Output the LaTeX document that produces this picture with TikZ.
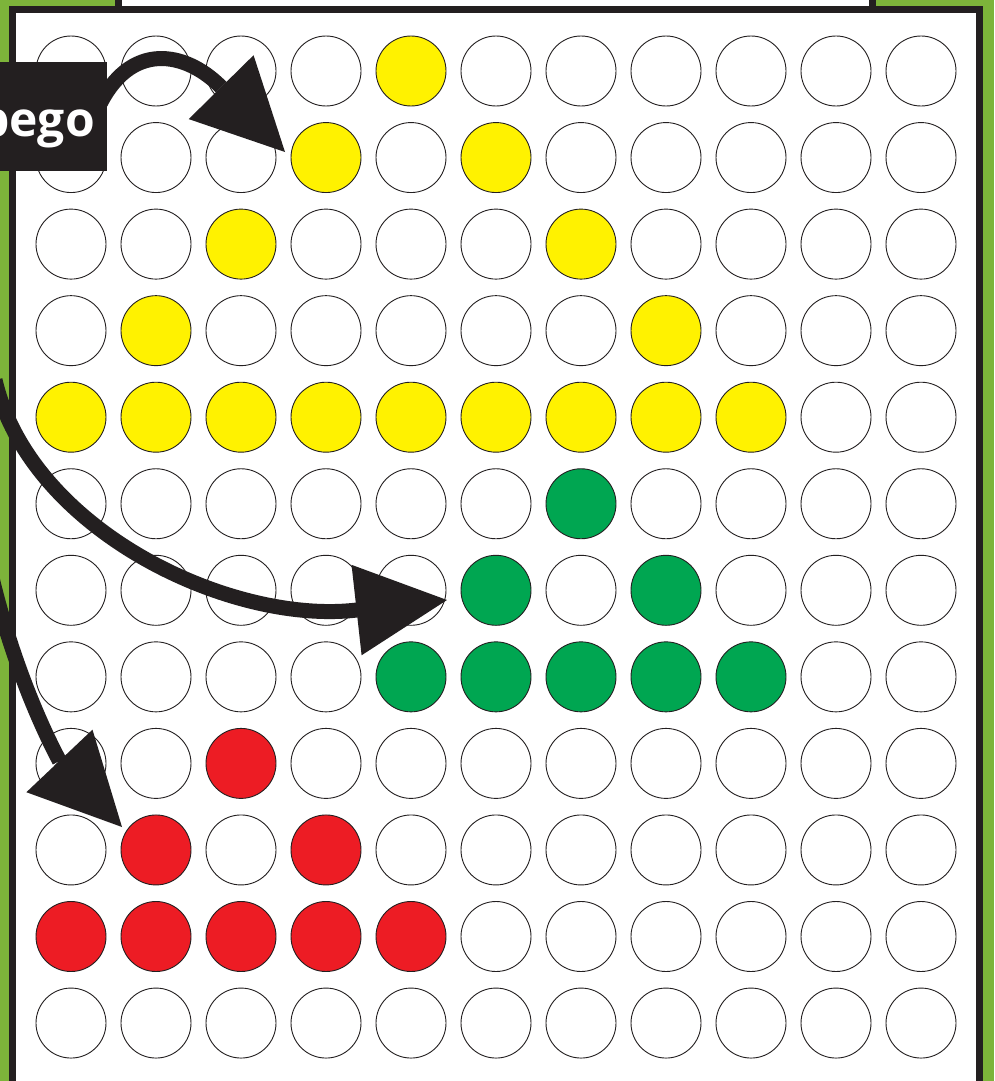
\documentclass[tikz,border=0pt]{standalone}
\usepackage{fontspec}
\setsansfont{Open Sans}
\usetikzlibrary{arrows.meta}
\definecolor{bg}{RGB}{125,180,58}
\definecolor{ink}{RGB}{35,31,32}
\definecolor{Y}{RGB}{255,242,0}
\definecolor{G}{RGB}{0,166,81}
\definecolor{R}{RGB}{237,28,36}
\definecolor{W}{RGB}{255,255,255}
\tikzset{
  dot/.style={circle, draw=ink, line width=0.9pt, minimum size=70pt, inner sep=0pt},
  bigarrow/.style={draw=ink, line width=15pt, -{Triangle[length=91pt,width=91pt,line width=0pt]}},
  labelbox/.style={fill=ink, minimum width=120pt, minimum height=109pt, inner sep=0pt},
  labeltext/.style={text=white, font=\sffamily\bfseries\fontsize{48}{50}\selectfont, inner sep=0pt},
  frame/.style={draw=ink, line width=7pt, fill=white},
}
\begin{document}
\begin{tikzpicture}[x=1pt,y=-1pt]
\useasboundingbox (0,0) rectangle (994,1081);
\fill[bg] (0,0) rectangle (994,1081);
\draw[frame] (12,10) rectangle (979.5,1130);
\draw[frame] (118.5,-40) rectangle (872.5,10);
\foreach \r/\row in {
  0/{W,W,W,W,Y,W,W,W,W,W,W},
  1/{W,W,W,Y,W,Y,W,W,W,W,W},
  2/{W,W,Y,W,W,W,Y,W,W,W,W},
  3/{W,Y,W,W,W,W,W,Y,W,W,W},
  4/{Y,Y,Y,Y,Y,Y,Y,Y,Y,W,W},
  5/{W,W,W,W,W,W,G,W,W,W,W},
  6/{W,W,W,W,W,G,W,G,W,W,W},
  7/{W,W,W,W,G,G,G,G,G,W,W},
  8/{W,W,R,W,W,W,W,W,W,W,W},
  9/{W,R,W,R,W,W,W,W,W,W,W},
  10/{R,R,R,R,R,W,W,W,W,W,W},
  11/{W,W,W,W,W,W,W,W,W,W,W}} {
  \foreach \col [count=\c from 0] in \row {
    \node[dot, fill=\col] (c-\r-\c) at ({71+85*\c},{71+86.55*\r}) {};
  }
}
\node[labelbox, anchor=north east] (lbl) at (107,62) {};
\node[labeltext, anchor=base east] (lbltxt) at (95,136) {pego};
\coordinate (a1s) at (98,108);
\coordinate (a1b) at (220.5,86.5);
\coordinate (a1t) at (285,152);
\draw[bigarrow] (a1s) .. controls (130,40) and (185.5,51.5) .. (a1b) -- (a1t);
\coordinate (a2s) at (-5,380);
\coordinate (a2b) at (357,610);
\coordinate (a2t) at (447,600);
\draw[bigarrow] (a2s) .. controls (30,530) and (230,625) .. (a2b) -- (a2t);
\coordinate (a3s) at (-12,560);
\coordinate (a3b) at (59.5,761);
\coordinate (a3t) at (122,827);
\draw[bigarrow] (a3s) .. controls (5,640) and (35,715) .. (a3b) -- (a3t);
\end{tikzpicture}
\end{document}
